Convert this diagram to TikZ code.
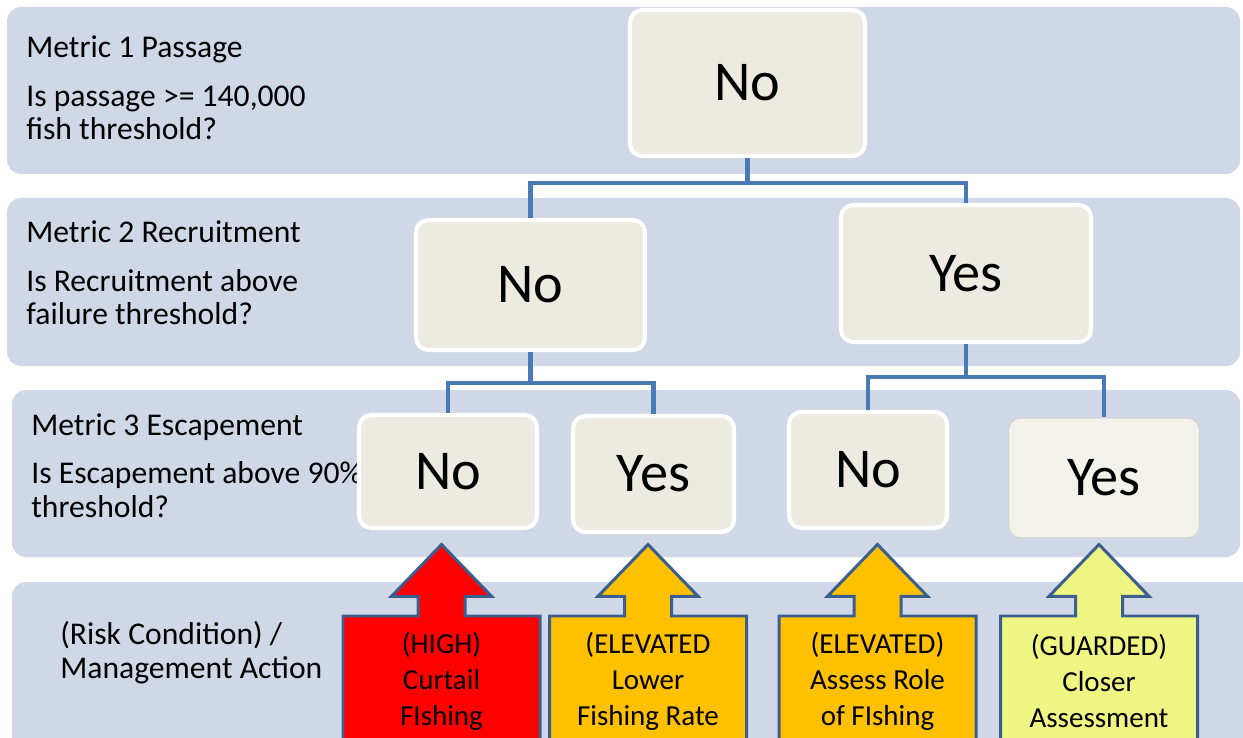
\documentclass[tikz,border=0pt]{standalone}
\usepackage{fontspec}
\setmainfont{Carlito}
\usetikzlibrary{positioning,shapes.arrows}
\definecolor{bandfill}{HTML}{D0D8E8}
\definecolor{boxfill}{HTML}{EDEBE1}
\definecolor{linkblue}{HTML}{4A7AB5}
\definecolor{edgeblue}{HTML}{3A5F8F}
\definecolor{riskred}{HTML}{FF0000}
\definecolor{riskorange}{HTML}{FFC000}
\definecolor{riskyellow}{HTML}{EEF582}
\begin{document}
\begin{tikzpicture}[band/.style={fill=bandfill,rounded corners=8pt},
lbl/.style={anchor=base west,inner sep=0pt,align=left,font=\fontsize{18}{18.8}\selectfont},
ans/.style={draw=white,line width=2.3pt,fill=boxfill,rounded corners=7pt,inner sep=0pt,font=\fontsize{32}{36}\selectfont},
link/.style={draw=linkblue,line width=2.4pt},
act/.style={shape=arrow box,draw=edgeblue,line width=1.7pt,arrow box arrows={north:1.4cm},arrow box shaft width=0.94cm,arrow box head extend=0.53cm,arrow box tip angle=88,minimum width=3.94cm,minimum height=2.6cm,align=center,inner sep=0pt,font=\fontsize{16.5}{20.5}\selectfont}]
\useasboundingbox (0,0) rectangle (24.86,-14.76);
\fill[band] (0.14,-0.14) rectangle (24.8,-3.48);
\fill[band] (0.14,-3.96) rectangle (24.8,-7.32);
\fill[band] (0.24,-7.8) rectangle (24.8,-11.14);
\fill[band] (0.24,-11.64) rectangle (25.2,-15.4);
\node[lbl] (m1) at (0.52,-1.16) {Metric 1 Passage};
\node[lbl] (q1) at (0.52,-2.80) {Is passage >= 140,000\\fish threshold?};
\node[lbl] (m2) at (0.52,-4.86) {Metric 2 Recruitment};
\node[lbl] (q2) at (0.52,-6.50) {Is Recruitment above\\failure threshold?};
\node[lbl] (m3) at (0.62,-8.70) {Metric 3 Escapement};
\node[lbl] (q3) at (0.62,-10.34) {Is Escapement above 90\%\\threshold?};
\node[lbl] (risk) at (1.2,-13.56) {(Risk Condition) /\\Management Action};
\node[ans,minimum width=4.70cm,minimum height=2.92cm] (top) at (14.95,-1.66) {No};
\node[ans,minimum width=4.58cm,minimum height=2.60cm] (no2) at (10.61,-5.70) {No};
\node[ans,minimum width=5.00cm,minimum height=2.74cm] (yes2) at (19.32,-5.47) {Yes};
\node[ans,minimum width=3.56cm,minimum height=2.26cm] (no3a) at (8.96,-9.43) {No};
\node[ans,minimum width=3.22cm,minimum height=2.32cm] (yes3a) at (13.07,-9.48) {Yes};
\node[ans,minimum width=3.16cm,minimum height=2.32cm] (no3b) at (17.36,-9.40) {No};
\node[ans,draw=gray!35,line width=0.6pt,fill=boxfill!70!white,minimum width=3.82cm,minimum height=2.40cm] (yes3b) at (22.08,-9.56) {Yes};
\foreach \a/\b/\d in {top/no2/0.5,top/yes2/0.5,no2/no3a/0.62,no2/yes3a/0.62,yes2/no3b/0.66,yes2/yes3b/0.66}{\draw[link] (\a.south)--++(0,-\d)-| (\b.north);}
\node[act,fill=riskred] (high) at (8.83,-13.62) {(HIGH)\\Curtail\\FIshing};
\node[act,fill=riskorange] (lower) at (12.96,-13.62) {(ELEVATED\\Lower\\Fishing Rate};
\node[act,fill=riskorange] (assess) at (17.55,-13.62) {(ELEVATED)\\Assess Role\\of FIshing};
\node[act,fill=riskyellow] (guard) at (21.98,-13.62) {(GUARDED)\\Closer\\Assessment};
\end{tikzpicture}
\end{document}
